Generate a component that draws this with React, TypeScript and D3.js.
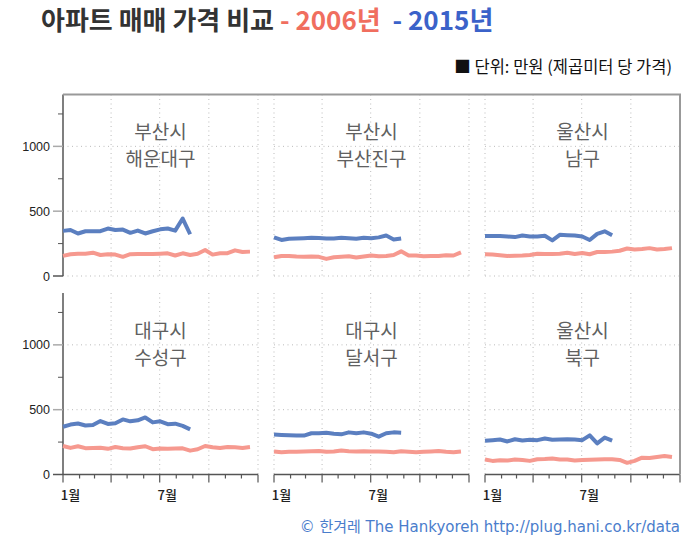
import React, { useEffect, useRef } from 'react';
import * as d3 from 'd3';

// biweekly sampling dates (month-day), both years mapped onto one calendar year
const sampleDates = [
  '01-01', '01-15', '01-29', '02-12', '02-26', '03-12', '03-26', '04-09', '04-23',
  '05-07', '05-21', '06-04', '06-18', '07-02', '07-16', '07-30', '08-13', '08-27',
  '09-10', '09-24', '10-08', '10-22', '11-05', '11-19', '12-03', '12-17'
];

// 만원 per m², 2006 (full year) and 2015 (Jan–Aug)
const haeundae2006 = [155, 168, 172, 172, 180, 162, 168, 165, 148, 168, 170, 170, 170, 172, 175, 158, 175, 162, 172, 200, 165, 175, 176, 198, 185, 188];
const haeundae2015 = [348, 355, 328, 345, 346, 346, 366, 355, 358, 333, 350, 328, 345, 360, 366, 350, 443, 322];

const busanjin2006 = [145, 155, 155, 150, 148, 150, 148, 132, 145, 148, 152, 142, 150, 158, 152, 155, 162, 190, 158, 158, 152, 155, 155, 160, 158, 182];
const busanjin2015 = [298, 278, 288, 290, 292, 295, 293, 290, 290, 295, 292, 288, 295, 292, 298, 312, 282, 290];

const ulsanNam2006 = [168, 165, 160, 155, 157, 158, 162, 172, 170, 170, 172, 180, 170, 178, 168, 185, 185, 188, 195, 212, 205, 208, 215, 205, 208, 215];
const ulsanNam2015 = [308, 308, 308, 305, 300, 312, 305, 305, 310, 275, 318, 315, 312, 305, 278, 325, 345, 315];

const suseong2006 = [220, 205, 218, 203, 205, 207, 198, 212, 203, 200, 210, 218, 195, 200, 198, 200, 202, 184, 195, 220, 210, 205, 212, 210, 205, 212];
const suseong2015 = [368, 385, 393, 378, 382, 412, 390, 395, 425, 410, 418, 440, 402, 410, 388, 392, 375, 348];

const dalseo2006 = [178, 172, 175, 175, 177, 180, 182, 175, 178, 185, 180, 178, 180, 178, 178, 176, 172, 180, 176, 172, 175, 178, 182, 175, 172, 178];
const dalseo2015 = [308, 305, 303, 300, 300, 318, 318, 322, 315, 310, 325, 318, 325, 315, 292, 318, 325, 322];

const ulsanBuk2006 = [115, 105, 110, 108, 115, 112, 105, 118, 120, 124, 115, 115, 108, 112, 114, 116, 118, 118, 112, 90, 105, 130, 128, 135, 142, 135];
const ulsanBuk2015 = [260, 265, 270, 255, 272, 262, 268, 265, 278, 268, 270, 272, 270, 265, 302, 240, 285, 262];

const panelNames = [
  ['부산시', '해운대구'], ['부산시', '부산진구'], ['울산시', '남구'],
  ['대구시', '수성구'], ['대구시', '달서구'], ['울산시', '북구']
];
const series2006 = [haeundae2006, busanjin2006, ulsanNam2006, suseong2006, dalseo2006, ulsanBuk2006];
const series2015 = [haeundae2015, busanjin2015, ulsanNam2015, suseong2015, dalseo2015, ulsanBuk2015];

const yMajor = [0, 500, 1000];
const yMinor = [250, 750, 1250];
const monthLabels = [{ m: 0, label: '1월' }, { m: 6, label: '7월' }];

const W = 700;
const H = 540;
const colX = [63, 274, 485];
const rowY = [94.5, 293];
const panelW = 195;
const panelH = 181.5;

const RED = '#f6998f';
const BLUE = '#5b7fc0';
const KR = '"Noto Sans CJK KR", "Noto Sans", sans-serif';
const NUM = '"Liberation Sans", Arial, sans-serif';

const parse = d3.timeParse('%Y-%m-%d');
const BASE = 2001;

export default function App() {
  const ref = useRef<SVGSVGElement>(null);

  useEffect(() => {
    const svg = d3.select(ref.current);
    svg.selectAll('*').remove();

    const x = d3.scaleTime()
      .domain([new Date(BASE, 0, 1), new Date(BASE + 1, 0, 1)])
      .range([0, panelW]);
    const y = d3.scaleLinear().domain([0, 1400]).range([panelH, 0]);

    const dates = sampleDates.map(s => parse(`${BASE}-${s}`)!);
    const quarters = d3.timeMonth.every(3)!.range(new Date(BASE, 0, 1), new Date(BASE + 1, 0, 2));
    const months = d3.timeMonth.range(new Date(BASE, 0, 1), new Date(BASE + 1, 0, 2));

    const line = d3.line<number>()
      .x((_, i) => x(dates[i]))
      .y(d => y(d));

    // title
    const title = svg.append('text')
      .attr('x', 41)
      .attr('y', 30)
      .attr('xml:space', 'preserve')
      .style('white-space', 'pre')
      .style('font-family', KR)
      .style('font-size', '26px')
      .style('font-weight', 700);
    title.append('tspan').attr('fill', '#333').text('아파트 매매 가격 비교 ');
    title.append('tspan').attr('fill', '#f06e5f').text('- 2006년  ');
    title.append('tspan').attr('fill', '#3b62c9').text('- 2015년');

    // unit note
    svg.append('text')
      .attr('x', 672)
      .attr('y', 73)
      .attr('text-anchor', 'end')
      .style('font-family', KR)
      .style('font-size', '16.5px')
      .attr('fill', '#111')
      .text('■ 단위: 만원 (제곱미터 당 가격)');

    panelNames.forEach((names, p) => {
      const col = p % 3;
      const row = Math.floor(p / 3);
      const g = svg.append('g')
        .attr('transform', `translate(${colX[col]},${rowY[row]})`);

      // dotted grid
      const grid = g.append('g')
        .attr('stroke', '#bbb')
        .attr('stroke-width', 1)
        .attr('stroke-dasharray', '1,3.5');
      grid.selectAll('.vg')
        .data(quarters.filter(d => !(col === 0 && +d === +quarters[0])))
        .enter().append('line')
        .attr('x1', d => x(d)).attr('x2', d => x(d))
        .attr('y1', 0).attr('y2', panelH);
      grid.selectAll('.hg')
        .data(row === 0 ? yMajor : yMajor.slice(1))
        .enter().append('line')
        .attr('x1', 0).attr('x2', panelW)
        .attr('y1', d => y(d)).attr('y2', d => y(d));

      // left axis, first column only
      if (col === 0) {
        g.append('line')
          .attr('x1', 0).attr('x2', 0)
          .attr('y1', 0).attr('y2', panelH)
          .attr('stroke', '#555').attr('stroke-width', 1.5);
        g.selectAll('.ymaj')
          .data(yMajor)
          .enter().append('line')
          .attr('x1', -10).attr('x2', 0)
          .attr('y1', d => y(d)).attr('y2', d => y(d))
          .attr('stroke', d => (d === 0 ? '#555' : '#aaa'))
          .attr('stroke-width', 1.5);
        g.selectAll('.ymin')
          .data(yMinor)
          .enter().append('line')
          .attr('x1', -5).attr('x2', 0)
          .attr('y1', d => y(d)).attr('y2', d => y(d))
          .attr('stroke', '#555')
          .attr('stroke-width', 1);
        g.selectAll('.ylab')
          .data(yMajor)
          .enter().append('text')
          .attr('x', -13)
          .attr('y', d => y(d))
          .attr('dy', '0.36em')
          .attr('text-anchor', 'end')
          .style('font-family', NUM)
          .style('font-size', '12.5px')
          .attr('fill', '#222')
          .text(d => d);
      }

      // bottom axis, second row only
      if (row === 1) {
        g.append('line')
          .attr('x1', 0).attr('x2', panelW)
          .attr('y1', panelH).attr('y2', panelH)
          .attr('stroke', '#555').attr('stroke-width', 1.5);
        g.selectAll('.xt')
          .data(months)
          .enter().append('line')
          .attr('x1', d => x(d)).attr('x2', d => x(d))
          .attr('y1', panelH)
          .attr('y2', d => panelH + (d.getMonth() % 3 === 0 ? 8 : 4))
          .attr('stroke', '#555').attr('stroke-width', 1.2);
        g.selectAll('.xl')
          .data(monthLabels)
          .enter().append('text')
          .attr('x', d => x(new Date(BASE, d.m, 15)))
          .attr('y', panelH + 25)
          .attr('text-anchor', 'middle')
          .style('font-family', KR)
          .style('font-size', '13px')
          .style('font-weight', 500)
          .attr('fill', '#222')
          .text(d => d.label);
      }

      // panel label
      const lab = g.append('text')
        .attr('text-anchor', 'middle')
        .style('font-family', KR)
        .style('font-size', '19px')
        .attr('fill', '#606060');
      lab.append('tspan').attr('x', panelW / 2).attr('y', 38).attr('dy', '0.35em').text(names[0]);
      lab.append('tspan').attr('x', panelW / 2).attr('y', 65).attr('dy', '0.35em').text(names[1]);

      // series
      g.append('path')
        .attr('d', line(series2006[p]))
        .attr('fill', 'none')
        .attr('stroke', RED)
        .attr('stroke-width', 4)
        .attr('stroke-linejoin', 'round');
      g.append('path')
        .attr('d', line(series2015[p]))
        .attr('fill', 'none')
        .attr('stroke', BLUE)
        .attr('stroke-width', 4)
        .attr('stroke-linejoin', 'round');
    });

    // outer frame top and right
    const right = colX[2] + panelW;
    svg.append('path')
      .attr('d', `M${colX[0]},${rowY[0]}H${right}V${rowY[1] + panelH}`)
      .attr('fill', 'none')
      .attr('stroke', '#999')
      .attr('stroke-width', 2);

    // credit
    svg.append('text')
      .attr('x', 680)
      .attr('y', 532)
      .attr('text-anchor', 'end')
      .style('font-family', '"DejaVu Sans", "Noto Sans CJK KR", sans-serif')
      .style('font-size', '15px')
      .attr('fill', '#4a7dcc')
      .text('© 한겨레 The Hankyoreh http://plug.hani.co.kr/data');
  }, []);

  return (
    <svg
      ref={ref}
      width={W}
      height={H}
      style={{ position: 'absolute', left: 0, top: 0, background: '#fff' }}
    />
  );
}
